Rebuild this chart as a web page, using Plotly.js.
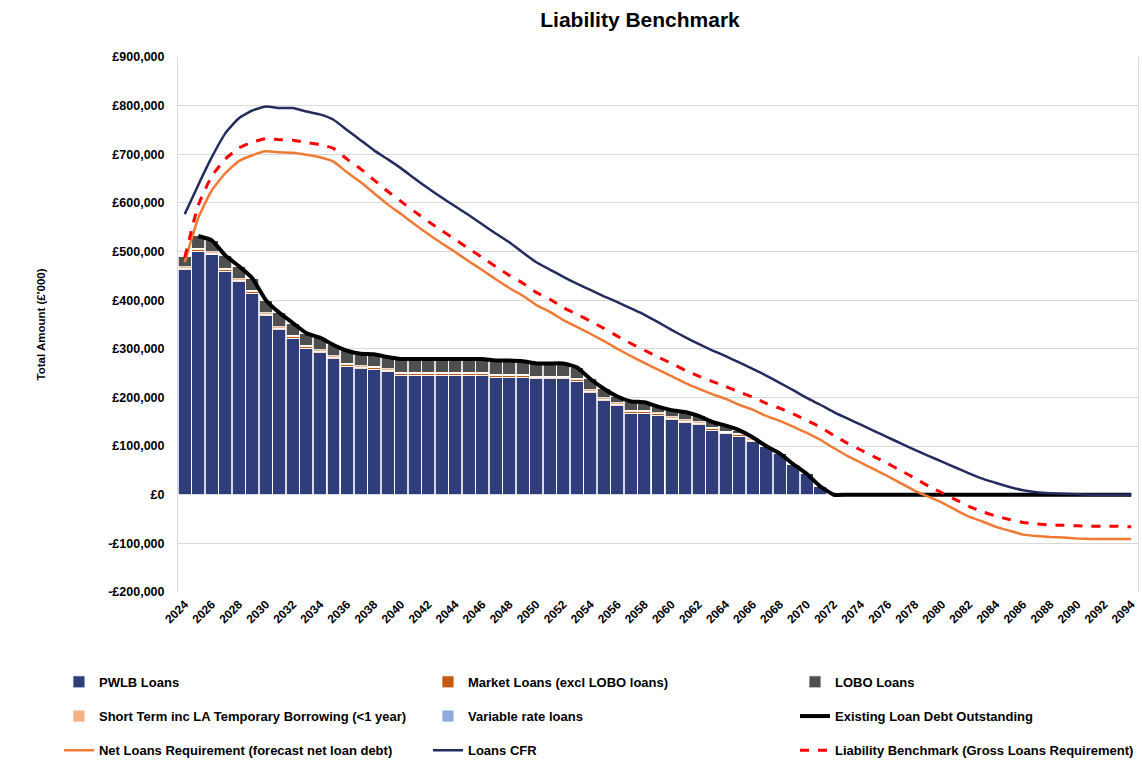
<!DOCTYPE html>
<html>
<head>
<meta charset="utf-8">
<script src="https://cdn.plot.ly/plotly-3.0.1.min.js"></script>
<style>
html,body{margin:0;padding:0;background:#fff;}
#chart{width:1142px;height:771px;}
</style>
</head>
<body>
<div id="chart"></div>
<script>
const years = ['2024','2025','2026','2027','2028','2029','2030','2031','2032','2033',
'2034','2035','2036','2037','2038','2039','2040','2041','2042','2043',
'2044','2045','2046','2047','2048','2049','2050','2051','2052','2053',
'2054','2055','2056','2057','2058','2059','2060','2061','2062','2063',
'2064','2065','2066','2067','2068','2069','2070','2071','2072','2073',
'2074','2075','2076','2077','2078','2079','2080','2081','2082','2083',
'2084','2085','2086','2087','2088','2089','2090','2091','2092','2093',
'2094'];

const xTickYears = ['2024','2026','2028','2030','2032','2034','2036','2038','2040','2042',
'2044','2046','2048','2050','2052','2054','2056','2058','2060','2062','2064','2066','2068',
'2070','2072','2074','2076','2078','2080','2082','2084','2086','2088','2090','2092','2094'];

const yTickVals = [-200000,-100000,0,100000,200000,300000,400000,500000,600000,700000,800000,900000];
const yTickText = ['-£200,000','-£100,000','£0','£100,000','£200,000','£300,000','£400,000','£500,000','£600,000','£700,000','£800,000','£900,000'];

const pwlbLoans = [463000,501000,494000,460000,438000,414000,368000,339000,322000,301000,
292000,280000,264000,259000,258000,253000,246000,246000,246000,246000,
246000,246000,246000,242000,242000,242000,238000,238000,238000,233000,
210000,193000,183000,168000,168000,163000,154000,148000,144000,133000,
125000,120000,109000,100000,85000,63000,43000,17000,0,0,
0,0,0,0,0,0,0,0,0,0,
0,0,0,0,0,0,0,0,0,0,
0];

const marketLoans = [3000,3000,3000,3000,3000,3000,3000,3000,3000,3000,
3000,3000,3000,3000,3000,3000,3000,3000,3000,3000,
3000,3000,3000,3000,3000,3000,3000,3000,3000,3000,
3000,3000,3000,3000,3000,3000,3000,3000,3000,3000,
3000,3000,3000,0,0,0,0,0,0,0,
0,0,0,0,0,0,0,0,0,0,
0,0,0,0,0,0,0,0,0,0,
0];

const shortTermLoans = [3000,3000,3000,3000,3000,3000,3000,3000,3000,3000,
3000,3000,3000,3000,3000,3000,3000,3000,3000,3000,
3000,3000,3000,3000,3000,3000,3000,3000,3000,3000,
3000,3000,3000,3000,3000,3000,3000,3000,3000,3000,
3000,3000,3000,0,0,0,0,0,0,0,
0,0,0,0,0,0,0,0,0,0,
0,0,0,0,0,0,0,0,0,0,
0];

const loboLoans = [20000,25000,23000,26000,26000,25000,26000,29000,25000,25000,
25000,22000,26000,25000,25000,24000,27000,27000,27000,27000,
27000,27000,27000,28000,28000,26500,26000,26000,26000,23000,
22000,19000,13000,18000,16000,12000,14000,16000,12000,11000,
11000,7000,3000,0,0,0,0,0,0,0,
0,0,0,0,0,0,0,0,0,0,
0,0,0,0,0,0,0,0,0,0,
0];

const variableLoans = [0,0,0,0,0,0,0,0,0,0,
0,0,0,0,0,0,0,0,0,0,
0,0,0,0,0,0,0,0,0,0,
0,0,0,0,0,0,0,0,0,0,
0,0,0,0,0,0,0,0,0,0,
0,0,0,0,0,0,0,0,0,0,
0,0,0,0,0,0,0,0,0,0,
0];

const existingDebt = [null,532000,523000,492000,470000,445000,400000,374000,353000,332000,
323000,308000,296000,290000,289000,283000,279000,279000,279000,279000,
279000,279000,279000,276000,276000,274500,270000,270000,270000,262000,
238000,218000,202000,192000,190000,181000,174000,170000,162000,150000,
142000,133000,118000,100000,85000,63000,43000,17000,0,0,
0,0,0,0,0,0,0,0,0,0,
0,0,0,0,0,0,0,0,0,0,
0];

const netLoansReq = [478000,569000,626000,661000,686000,698000,706000,704000,703000,699000,
694000,685000,663000,643000,620000,597000,577000,556000,536000,517000,
499000,480000,462000,443000,425000,409000,390000,376000,359000,345000,
331000,316000,300000,285000,271000,257000,244000,230000,218000,207000,
197000,185000,175000,162000,152000,140000,127000,113000,96000,80000,
66000,52000,38000,23000,8000,-4000,-16000,-31000,-45000,-55000,
-66000,-74000,-82000,-85000,-87000,-88000,-90000,-91000,-91000,-91000,
-91000];

const loansCFR = [577000,637000,694000,743000,774000,790000,798000,795000,795000,788000,
782000,771000,750000,729000,708000,690000,671000,650000,630000,611000,
593000,575000,556000,537000,519000,498000,478000,463000,448000,434000,
421000,408000,396000,383000,370000,355000,339000,324000,310000,297000,
285000,272000,259000,245000,230000,215000,199000,185000,170000,157000,
144000,131000,118000,105000,92000,80000,68000,56000,44000,33000,
24000,16000,9000,5000,3000,2000,1000,0,0,0,
0];

const liabilityBenchmark = [488000,595000,655000,690000,713000,725000,732000,730000,729000,724000,
720000,712000,690000,670000,647000,624000,603000,582000,562000,543000,
525000,506000,488000,469000,451000,435000,416000,402000,385000,371000,
357000,342000,326000,311000,297000,283000,270000,256000,244000,233000,
223000,211000,201000,188000,178000,166000,153000,139000,122000,106000,
92000,78000,64000,49000,34000,18000,4000,-10000,-24000,-35000,
-44000,-51000,-57000,-60000,-62000,-63000,-64000,-65000,-65000,-65000,
-66000];

const FONT = 'Liberation Sans, Arial, sans-serif';
const barLine = {color:'#ffffff', width:0.8};

const traces = [
  {type:'bar', name:'PWLB Loans', x:years, y:pwlbLoans, marker:{color:'#2F3D7B', line:barLine}, legend:'legend'},
  {type:'bar', name:'Market Loans (excl LOBO loans)', x:years, y:marketLoans, marker:{color:'#C55A11', line:barLine}, legend:'legend2'},
  {type:'bar', name:'Short Term inc LA Temporary Borrowing (<1 year)', x:years, y:shortTermLoans, marker:{color:'#F4B183', line:barLine}, legend:'legend4'},
  {type:'bar', name:'LOBO Loans', x:years, y:loboLoans, marker:{color:'#4F4F4F', line:barLine}, legend:'legend3'},
  {type:'bar', name:'Variable rate loans', x:years, y:variableLoans, marker:{color:'#8FAADC', line:barLine}, legend:'legend5'},
  {type:'scatter', mode:'lines', name:'Existing Loan Debt Outstanding', x:years, y:existingDebt,
    line:{color:'#000000', width:4, shape:'spline', smoothing:0.4}, legend:'legend6'},
  {type:'scatter', mode:'lines', name:'Net Loans Requirement (forecast net loan debt)', x:years, y:netLoansReq,
    line:{color:'#F07A34', width:2.5, shape:'spline', smoothing:0.5}, legend:'legend7'},
  {type:'scatter', mode:'lines', name:'Loans CFR', x:years, y:loansCFR,
    line:{color:'#232C5E', width:2.5, shape:'spline', smoothing:0.5}, legend:'legend8'},
  {type:'scatter', mode:'lines', name:'Liability Benchmark (Gross Loans Requirement)', x:years, y:liabilityBenchmark,
    line:{color:'#FF0000', width:3, dash:'dash', shape:'spline', smoothing:0.5}, legend:'legend9'}
];

function legendAt(x, y) {
  return {
    orientation:'h', xref:'paper', yref:'paper', x:x, y:y, xanchor:'left', yanchor:'middle',
    traceorder:'normal', font:{family:FONT, size:13, color:'#000', weight:'bold'}, bgcolor:'rgba(0,0,0,0)'
  };
}
const colX = [-0.124, 0.2604, 0.6427];
const rowY = [-0.168, -0.232, -0.296];

const layout = {
  width:1142, height:771,
  margin:{l:178, r:4, t:57, b:179, autoexpand:false},
  paper_bgcolor:'#ffffff', plot_bgcolor:'#ffffff',
  barmode:'stack', bargap:0.04,
  showlegend:true,
  title:{text:'<b>Liability Benchmark</b>', x:0.48125, xref:'paper', xanchor:'center',
    y:0.974, yref:'container', yanchor:'middle', font:{family:FONT, size:21, color:'#000'}},
  xaxis:{type:'category', tickvals:xTickYears, ticktext:xTickYears, tickangle:-45,
    tickfont:{family:FONT, size:12, color:'#000', weight:'bold'},
    showgrid:false, showline:false, zeroline:false, ticks:'', automargin:false, ticklabelstandoff:2},
  yaxis:{range:[-200000,900000], tickvals:yTickVals, ticktext:yTickText,
    tickfont:{family:FONT, size:12.5, color:'#000', weight:'bold'},
    showgrid:true, gridcolor:'#D9D9D9', gridwidth:1, zeroline:false,
    showline:true, linecolor:'#D9D9D9', linewidth:1, mirror:true, ticks:'', ticklabelstandoff:10,
    automargin:false,
    title:{text:"<b>Total Amount (£'000)</b>", standoff:60, font:{family:FONT, size:11.5, color:'#000'}}},
  legend:  legendAt(colX[0], rowY[0]),
  legend2: legendAt(colX[1], rowY[0]),
  legend3: legendAt(colX[2], rowY[0]),
  legend4: legendAt(colX[0], rowY[1]),
  legend5: legendAt(colX[1], rowY[1]),
  legend6: legendAt(colX[2], rowY[1]),
  legend7: legendAt(colX[0], rowY[2]),
  legend8: legendAt(colX[1], rowY[2]),
  legend9: legendAt(colX[2], rowY[2])
};

Plotly.newPlot('chart', traces, layout, {displayModeBar:false, staticPlot:true});
</script>
</body>
</html>
